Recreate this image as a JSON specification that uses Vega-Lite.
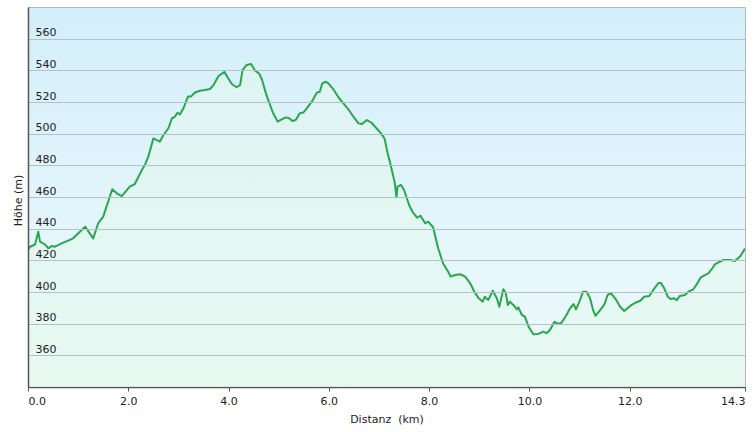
{
  "$schema": "https://vega.github.io/schema/vega-lite/v6.json",
  "width": 717,
  "height": 380,
  "autosize": {"type": "none"},
  "padding": {"left": 28, "top": 7, "right": 10, "bottom": 45},
  "background": "white",
  "config": {
    "font": "DejaVu Sans",
    "view": {
      "stroke": "#b8b8b8",
      "strokeWidth": 1,
      "fill": {"gradient": "linear", "x1": 0, "y1": 0, "x2": 0, "y2": 1,
        "stops": [{"offset": 0, "color": "#d3effa"}, {"offset": 1, "color": "#f0fafd"}]}
    }
  },
  "data": {
    "values": [
      {"d": 0.00, "h": 426.5}, {"d": 0.04, "h": 428.6}, {"d": 0.14, "h": 430}, {"d": 0.205, "h": 438},
      {"d": 0.24, "h": 431.8}, {"d": 0.34, "h": 430}, {"d": 0.405, "h": 427.6}, {"d": 0.47, "h": 429},
      {"d": 0.54, "h": 428.6}, {"d": 0.67, "h": 430.7}, {"d": 0.80, "h": 432.4}, {"d": 0.90, "h": 433.9},
      {"d": 1.00, "h": 437}, {"d": 1.14, "h": 441.3}, {"d": 1.30, "h": 433.9}, {"d": 1.40, "h": 443.4},
      {"d": 1.50, "h": 447.6}, {"d": 1.68, "h": 464.9}, {"d": 1.77, "h": 462.3}, {"d": 1.87, "h": 460.6},
      {"d": 2.03, "h": 466.5}, {"d": 2.13, "h": 468.2}, {"d": 2.27, "h": 477}, {"d": 2.33, "h": 480.2},
      {"d": 2.40, "h": 485.5}, {"d": 2.50, "h": 497}, {"d": 2.63, "h": 495}, {"d": 2.70, "h": 499},
      {"d": 2.80, "h": 503.4}, {"d": 2.87, "h": 509.7}, {"d": 2.93, "h": 510.7}, {"d": 2.98, "h": 513.2},
      {"d": 3.03, "h": 512.2}, {"d": 3.10, "h": 516}, {"d": 3.19, "h": 523.4}, {"d": 3.25, "h": 523.4},
      {"d": 3.33, "h": 526}, {"d": 3.43, "h": 527.1}, {"d": 3.53, "h": 527.6}, {"d": 3.63, "h": 528.2},
      {"d": 3.70, "h": 530.7}, {"d": 3.80, "h": 536.4}, {"d": 3.92, "h": 539}, {"d": 3.99, "h": 535},
      {"d": 4.07, "h": 531.2}, {"d": 4.16, "h": 529.3}, {"d": 4.23, "h": 530.7}, {"d": 4.28, "h": 540.2},
      {"d": 4.36, "h": 543.4}, {"d": 4.45, "h": 544}, {"d": 4.53, "h": 539.8}, {"d": 4.61, "h": 538},
      {"d": 4.67, "h": 533.9}, {"d": 4.73, "h": 527}, {"d": 4.79, "h": 521.3}, {"d": 4.89, "h": 512.9},
      {"d": 4.98, "h": 507.6}, {"d": 5.06, "h": 509}, {"d": 5.14, "h": 510.3}, {"d": 5.21, "h": 509.7},
      {"d": 5.27, "h": 508}, {"d": 5.34, "h": 508.6}, {"d": 5.42, "h": 512.9}, {"d": 5.49, "h": 513.3},
      {"d": 5.56, "h": 516}, {"d": 5.66, "h": 520.2}, {"d": 5.76, "h": 525.9}, {"d": 5.82, "h": 526.5},
      {"d": 5.87, "h": 531.8}, {"d": 5.94, "h": 532.8}, {"d": 5.99, "h": 531.8}, {"d": 6.09, "h": 528},
      {"d": 6.19, "h": 523}, {"d": 6.29, "h": 519.2}, {"d": 6.39, "h": 515.4}, {"d": 6.49, "h": 510.7},
      {"d": 6.59, "h": 506.5}, {"d": 6.66, "h": 506.1}, {"d": 6.76, "h": 508.6}, {"d": 6.85, "h": 506.9},
      {"d": 6.95, "h": 503.4}, {"d": 7.04, "h": 500.2}, {"d": 7.11, "h": 497}, {"d": 7.17, "h": 488},
      {"d": 7.22, "h": 482}, {"d": 7.31, "h": 469.7}, {"d": 7.35, "h": 459.8}, {"d": 7.37, "h": 466.5},
      {"d": 7.44, "h": 467.6}, {"d": 7.50, "h": 464.4}, {"d": 7.60, "h": 455}, {"d": 7.68, "h": 450.1},
      {"d": 7.76, "h": 446.9}, {"d": 7.83, "h": 448.2}, {"d": 7.92, "h": 443.4}, {"d": 7.98, "h": 444.4},
      {"d": 8.08, "h": 440.9}, {"d": 8.18, "h": 427.6}, {"d": 8.28, "h": 418}, {"d": 8.38, "h": 412.8},
      {"d": 8.43, "h": 409.7}, {"d": 8.52, "h": 410.7}, {"d": 8.62, "h": 411.2}, {"d": 8.72, "h": 409.7},
      {"d": 8.82, "h": 405.5}, {"d": 8.90, "h": 400.2}, {"d": 8.99, "h": 396}, {"d": 9.07, "h": 393.9},
      {"d": 9.11, "h": 397}, {"d": 9.18, "h": 395}, {"d": 9.27, "h": 400.8}, {"d": 9.35, "h": 396},
      {"d": 9.40, "h": 390.7}, {"d": 9.48, "h": 401.7}, {"d": 9.53, "h": 399.2}, {"d": 9.57, "h": 391.8},
      {"d": 9.61, "h": 393.9}, {"d": 9.68, "h": 391.8}, {"d": 9.75, "h": 389}, {"d": 9.78, "h": 390.3},
      {"d": 9.85, "h": 385.5}, {"d": 9.91, "h": 384.4}, {"d": 9.99, "h": 377.7}, {"d": 10.08, "h": 373.3},
      {"d": 10.18, "h": 373.5}, {"d": 10.28, "h": 375}, {"d": 10.34, "h": 374}, {"d": 10.41, "h": 376},
      {"d": 10.50, "h": 381.2}, {"d": 10.58, "h": 379.8}, {"d": 10.64, "h": 380.6}, {"d": 10.74, "h": 385.5},
      {"d": 10.81, "h": 389.7}, {"d": 10.88, "h": 392.4}, {"d": 10.93, "h": 389}, {"d": 11.01, "h": 394.9},
      {"d": 11.07, "h": 400.2}, {"d": 11.14, "h": 400.2}, {"d": 11.21, "h": 396}, {"d": 11.27, "h": 388.6},
      {"d": 11.32, "h": 385}, {"d": 11.41, "h": 388.6}, {"d": 11.49, "h": 391.8}, {"d": 11.56, "h": 398.1},
      {"d": 11.63, "h": 399.2}, {"d": 11.71, "h": 396}, {"d": 11.81, "h": 390.7}, {"d": 11.89, "h": 388},
      {"d": 12.01, "h": 391.2}, {"d": 12.11, "h": 393.2}, {"d": 12.21, "h": 394.5}, {"d": 12.29, "h": 397},
      {"d": 12.39, "h": 397.5}, {"d": 12.47, "h": 401.3}, {"d": 12.57, "h": 405.5}, {"d": 12.62, "h": 405.9},
      {"d": 12.69, "h": 402.3}, {"d": 12.76, "h": 397}, {"d": 12.82, "h": 395.6}, {"d": 12.89, "h": 396},
      {"d": 12.94, "h": 394.9}, {"d": 13.00, "h": 397.5}, {"d": 13.10, "h": 398.1}, {"d": 13.17, "h": 400.2},
      {"d": 13.27, "h": 401.7}, {"d": 13.34, "h": 405}, {"d": 13.42, "h": 409.3}, {"d": 13.50, "h": 410.7},
      {"d": 13.57, "h": 411.8}, {"d": 13.65, "h": 415}, {"d": 13.70, "h": 417.5}, {"d": 13.78, "h": 418.8},
      {"d": 13.87, "h": 420.2}, {"d": 14.00, "h": 420.2}, {"d": 14.10, "h": 419.6}, {"d": 14.21, "h": 422.8},
      {"d": 14.30, "h": 427.5}
    ]
  },
  "encoding": {
    "x": {
      "field": "d", "type": "quantitative",
      "scale": {"domain": [0, 14.3], "nice": false, "zero": false},
      "axis": {
        "title": "Distanz\u00a0\u00a0(km)",
        "values": [0, 2, 4, 6, 8, 10, 12, 14.3],
        "format": ".1f",
        "labelFlush": true,
        "grid": false,
        "domainColor": "#555555",
        "domainWidth": 1.5,
        "tickColor": "#555555",
        "tickSize": 4,
        "labelPadding": 4,
        "labelFontSize": 11,
        "labelColor": "#222222",
        "titleFontSize": 11,
        "titleFontWeight": "normal",
        "titleColor": "#222222",
        "titlePadding": 7
      }
    },
    "y": {
      "field": "h", "type": "quantitative",
      "scale": {"domain": [340, 580], "nice": false, "zero": false},
      "axis": {
        "title": "Höhe (m)",
        "zindex": 1,
        "values": [360, 380, 400, 420, 440, 460, 480, 500, 520, 540, 560],
        "grid": true,
        "gridColor": "#b4c2c6",
        "gridWidth": 1,
        "ticks": false,
        "tickSize": 0,
        "labelAlign": "left",
        "labelBaseline": "alphabetic",
        "labelPadding": -7,
        "labelOffset": -3,
        "labelFontSize": 11,
        "labelColor": "#222222",
        "domainColor": "#555555",
        "domainWidth": 1.5,
        "titleFontSize": 11,
        "titleFontWeight": "normal",
        "titleColor": "#222222",
        "titleAngle": -90,
        "titleX": -10,
        "titleY": 193,
        "titleAlign": "center",
        "titleBaseline": "middle"
      }
    }
  },
  "layer": [
    {
      "mark": {
        "type": "area",
        "clip": true,
        "opacity": 0.6,
        "color": {"gradient": "linear", "x1": 0, "y1": 0, "x2": 0, "y2": 1,
          "stops": [{"offset": 0, "color": "#e3f7ef"}, {"offset": 1, "color": "#e2f8ea"}]}
      },
      "encoding": {"y2": {"datum": 340}}
    },
    {
      "mark": {"type": "line", "clip": true, "color": "#2aa64c", "strokeWidth": 2, "strokeJoin": "round"},
      "encoding": {}
    }
  ]
}
